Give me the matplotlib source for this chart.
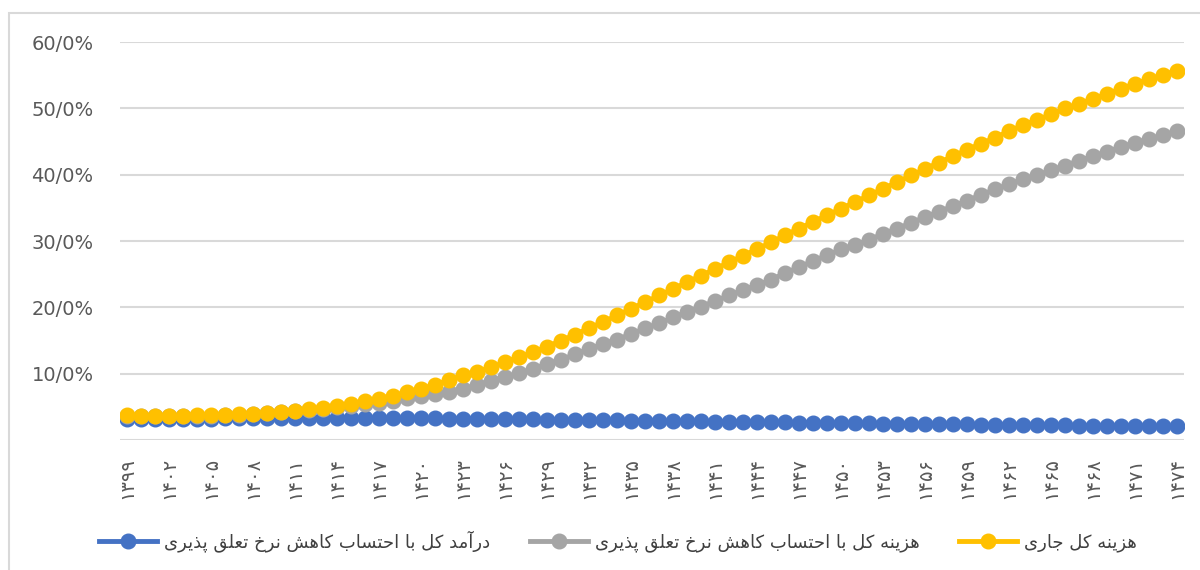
import matplotlib
matplotlib.use("Agg")
import matplotlib.pyplot as plt
from matplotlib.patches import Rectangle
from matplotlib.ticker import FuncFormatter

# years 1399..1474 (solar hijri)
years = list(range(1399, 1475))

# درآمد کل با احتساب کاهش نرخ تعلق پذیری (blue)
income_reduced = [
    3.10, 3.12, 3.15, 3.18, 3.20, 3.22, 3.24, 3.26, 3.28, 3.29,
    3.30, 3.31, 3.32, 3.32, 3.33, 3.33, 3.33, 3.32, 3.32, 3.31,
    3.30, 3.28, 3.26, 3.24, 3.22, 3.20, 3.18, 3.15, 3.13, 3.10,
    3.08, 3.05, 3.03, 3.00, 2.98, 2.95, 2.93, 2.90, 2.88, 2.85,
    2.83, 2.80, 2.78, 2.75, 2.73, 2.70, 2.68, 2.65, 2.63, 2.60,
    2.58, 2.56, 2.53, 2.51, 2.49, 2.46, 2.44, 2.42, 2.40, 2.38,
    2.35, 2.33, 2.31, 2.29, 2.27, 2.25, 2.23, 2.21, 2.19, 2.17,
    2.15, 2.13, 2.11, 2.09, 2.07, 2.05,
]

# هزینه کل با احتساب کاهش نرخ تعلق پذیری (gray)
cost_reduced = [
    3.70, 3.60, 3.60, 3.60, 3.65, 3.67, 3.70, 3.77, 3.85, 3.95,
    4.05, 4.20, 4.38, 4.55, 4.75, 4.95, 5.15, 5.40, 5.65, 5.95,
    6.30, 6.65, 7.00, 7.30, 7.70, 8.35, 8.95, 9.50, 10.10, 10.75,
    11.50, 12.10, 12.95, 13.75, 14.50, 15.15, 16.00, 16.85, 17.60, 18.50,
    19.30, 20.10, 21.00, 21.80, 22.65, 23.35, 24.20, 25.15, 26.10, 27.00,
    27.90, 28.75, 29.45, 30.20, 31.10, 31.90, 32.75, 33.65, 34.45, 35.30,
    36.10, 37.00, 37.80, 38.60, 39.30, 39.95, 40.70, 41.40, 42.15, 42.80,
    43.50, 44.20, 44.85, 45.40, 46.00, 46.60,
]

# هزینه کل جاری (yellow)
cost_current = [
    3.75, 3.65, 3.65, 3.65, 3.70, 3.72, 3.75, 3.82, 3.90, 4.00,
    4.10, 4.25, 4.45, 4.65, 4.90, 5.15, 5.50, 5.85, 6.25, 6.70,
    7.20, 7.70, 8.35, 9.05, 9.75, 10.30, 10.95, 11.75, 12.50, 13.25,
    14.10, 15.00, 15.90, 16.90, 17.80, 18.80, 19.80, 20.80, 21.80, 22.80,
    23.80, 24.80, 25.80, 26.80, 27.80, 28.80, 29.80, 30.90, 31.90, 32.90,
    33.90, 34.90, 35.90, 36.90, 37.90, 38.90, 39.90, 40.90, 41.85, 42.80,
    43.80, 44.70, 45.60, 46.60, 47.50, 48.30, 49.10, 50.00, 50.70, 51.50,
    52.20, 53.00, 53.75, 54.40, 55.10, 55.70,
]

labels = [
    "درآمد کل با احتساب کاهش نرخ تعلق پذیری",
    "هزینه کل با احتساب کاهش نرخ تعلق پذیری",
    "هزینه کل جاری",
]
colors = ["#4472C4", "#A5A5A5", "#FFC000"]

y_ticks = [10, 20, 30, 40, 50, 60]


# matplotlib does no arabic shaping, so pick presentation forms by hand
# (isolated, final, initial, medial); None = letter does not join forward
FORMS = {
    "ا": ("\uFE8D", "\uFE8E", None, None),
    "آ": ("\uFE81", "\uFE82", None, None),
    "ب": ("\uFE8F", "\uFE90", "\uFE91", "\uFE92"),
    "پ": ("\uFB56", "\uFB57", "\uFB58", "\uFB59"),
    "ت": ("\uFE95", "\uFE96", "\uFE97", "\uFE98"),
    "ج": ("\uFE9D", "\uFE9E", "\uFE9F", "\uFEA0"),
    "ح": ("\uFEA1", "\uFEA2", "\uFEA3", "\uFEA4"),
    "خ": ("\uFEA5", "\uFEA6", "\uFEA7", "\uFEA8"),
    "د": ("\uFEA9", "\uFEAA", None, None),
    "ذ": ("\uFEAB", "\uFEAC", None, None),
    "ر": ("\uFEAD", "\uFEAE", None, None),
    "ز": ("\uFEAF", "\uFEB0", None, None),
    "س": ("\uFEB1", "\uFEB2", "\uFEB3", "\uFEB4"),
    "ش": ("\uFEB5", "\uFEB6", "\uFEB7", "\uFEB8"),
    "ع": ("\uFEC9", "\uFECA", "\uFECB", "\uFECC"),
    "ق": ("\uFED5", "\uFED6", "\uFED7", "\uFED8"),
    "ک": ("\uFB8E", "\uFB8F", "\uFB90", "\uFB91"),
    "ل": ("\uFEDD", "\uFEDE", "\uFEDF", "\uFEE0"),
    "م": ("\uFEE1", "\uFEE2", "\uFEE3", "\uFEE4"),
    "ن": ("\uFEE5", "\uFEE6", "\uFEE7", "\uFEE8"),
    "ه": ("\uFEE9", "\uFEEA", "\uFEEB", "\uFEEC"),
    "و": ("\uFEED", "\uFEEE", None, None),
    "ی": ("\uFBFC", "\uFBFD", "\uFBFE", "\uFBFF"),
}


def shape(text):
    out = []
    for i, ch in enumerate(text):
        if ch not in FORMS:
            out.append(ch)
            continue
        prev = text[i - 1] if i > 0 else ""
        nxt = text[i + 1] if i + 1 < len(text) else ""
        join_prev = prev in FORMS and FORMS[prev][2] is not None
        join_next = FORMS[ch][2] is not None and nxt in FORMS
        iso, fin, ini, med = FORMS[ch]
        if join_prev and join_next:
            out.append(med)
        elif join_prev:
            out.append(fin)
        elif join_next:
            out.append(ini)
        else:
            out.append(iso)
    return "".join(reversed(out))


def fa_digits(s):
    return str(s).translate(str.maketrans("0123456789", "۰۱۲۳۴۵۶۷۸۹"))


plt.rcParams["font.family"] = ["DejaVu Sans"]

fig = plt.figure(figsize=(12, 5.7), dpi=100)
ax = fig.add_axes([0.1, 0.228, 0.8867, 0.698])

x = list(range(len(years)))
series = [income_reduced, cost_reduced, cost_current]
for vals, color, label in zip(series, colors, labels):
    ax.plot(x, vals, color=color, lw=3.5, marker="o", ms=10.5,
            mec=color, label=shape(label))

ax.set_xlim(-0.5, len(years) - 0.5)
ax.set_ylim(0, 60)

ax.set_yticks(y_ticks)
ax.yaxis.set_major_formatter(FuncFormatter(lambda v, p: f"{int(v)}/0%"))
ax.grid(axis="y", color="#d9d9d9", lw=1.5)
ax.axhline(0, color="#d9d9d9", lw=1.5, zorder=0)
ax.set_axisbelow(True)

tick_pos = x[::3]
ax.set_xticks(tick_pos)
ax.set_xticklabels([fa_digits(years[i]) for i in tick_pos], rotation=90)

for s in ax.spines.values():
    s.set_visible(False)
ax.tick_params(axis="y", length=0, pad=19, labelsize=14, labelcolor="#595959")
ax.tick_params(axis="x", length=0, pad=12, labelsize=14, labelcolor="#595959")

fig.legend(loc="center", bbox_to_anchor=(0.515, 0.051), ncol=3, frameon=False,
           fontsize=13, handlelength=3.2, columnspacing=2.2, handletextpad=0.4,
           labelcolor="#404040")

# chart area border
fig.patches.append(Rectangle((0.0075, -0.05), 1.0, 1.027, transform=fig.transFigure,
                             fill=False, ec="#d9d9d9", lw=1.5))

fig.savefig("out.png", dpi=100)
